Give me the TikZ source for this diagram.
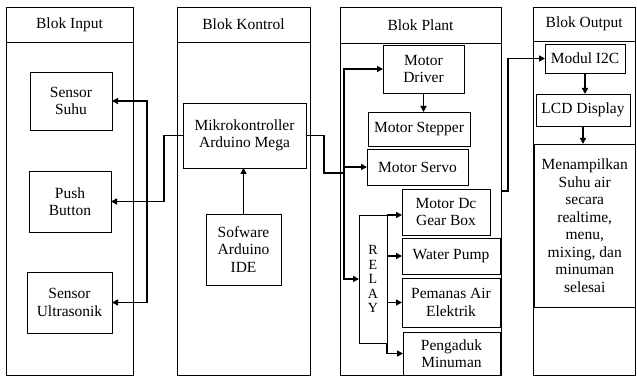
\documentclass[tikz,border=0pt]{standalone}
\usepackage{fontspec}
\setmainfont{Liberation Serif}
\usetikzlibrary{arrows.meta}

\begin{document}
\begin{tikzpicture}[
    x=1pt, y=-1pt,
    >={Triangle[length=6pt,width=6pt]},
    blok/.style={draw, line width=0.8pt, inner sep=2pt, outer sep=0pt, align=center, font=\fontsize{15.5}{17.5}\selectfont},
    colhead/.style={blok},
    colbody/.style={draw, line width=0.8pt, outer sep=0pt},
    arrowline/.style={->, line width=1.8pt},
    wire/.style={line width=1.8pt},
]
\useasboundingbox (0,0) rectangle (637,379);

% === Columns ===
\node[colhead, minimum width=127, minimum height=35] (hIn) at (69.5,24.5) {Blok Input};
\node[colbody, minimum width=127, minimum height=333] (bIn) at (69.5,208.5) {};
\node[colhead, minimum width=133, minimum height=35] (hKon) at (243.5,24.5) {Blok Kontrol};
\node[colbody, minimum width=133, minimum height=333] (bKon) at (243.5,208.5) {};
\node[colhead, minimum width=161, minimum height=36] (hPlant) at (420.5,25) {Blok Plant};
\node[colbody, minimum width=161, minimum height=332] (bPlant) at (420.5,209) {};
\node[colhead, minimum width=102.5, minimum height=34] (hOut) at (584.25,24) {Blok Output};
\node[colbody, minimum width=102.5, minimum height=334] (bOut) at (584.25,208) {};

% === Blok Input ===
\node[blok, minimum width=82, minimum height=58] (suhu) at (71,101) {Sensor\\Suhu};
\node[blok, minimum width=82, minimum height=61] (push) at (70,201.5) {Push\\Button};
\node[blok, minimum width=85, minimum height=61] (ultra) at (69.5,302.5) {Sensor\\Ultrasonik};

% === Blok Kontrol ===
\node[blok, minimum width=123, minimum height=65] (mikro) at (244.5,135.5) {Mikrokontroller\\Arduino Mega};
\node[blok, minimum width=75, minimum height=71] (soft) at (243.5,249.5) {Sofware\\Arduino\\IDE};

% === Blok Plant ===
\node[blok, minimum width=81, minimum height=48] (driver) at (423.5,69) {Motor\\Driver};
\node[blok, minimum width=102, minimum height=34] (stepper) at (419,129) {Motor Stepper};
\node[blok, minimum width=101, minimum height=36] (servo) at (417.5,167) {Motor Servo};
\node[blok, minimum width=28, minimum height=128, font=\fontsize{14}{14.5}\selectfont] (relay) at (373,279) {R\\E\\L\\A\\Y};
\node[blok, minimum width=88, minimum height=46] (gearbox) at (446,212) {Motor Dc\\Gear Box};
\node[blok, minimum width=98, minimum height=36] (pump) at (451,256) {Water Pump};
\node[blok, minimum width=98, minimum height=49] (pemanas) at (451,302.5) {Pemanas Air\\Elektrik};
\node[blok, minimum width=97, minimum height=43] (pengaduk) at (451.5,353.5) {Pengaduk\\Minuman};

% === Blok Output ===
\node[blok, minimum width=80, minimum height=29] (modul) at (585,58.5) {Modul I2C};
\node[blok, minimum width=94, minimum height=32] (lcd) at (583,110) {LCD Display};
\node[blok, minimum width=101.5, minimum height=163] (tampil) at (584.75,225.5) {Menampilkan\\Suhu air\\secara\\realtime,\\menu,\\mixing, dan\\minuman\\selesai};

% === Connections ===
\path (push.east) -- ++(36,0) coordinate (jIn);
\draw[arrowline] (mikro.west) -- ++(-19,0) |- (push.east);
\draw[arrowline] (jIn) |- (suhu.east);
\draw[arrowline] (jIn) |- (ultra.east);
\draw[arrowline] (soft.north) -- (soft.north |- mikro.south);

\coordinate (jPl) at (344,173);
\draw[wire] (mikro.east) -- ++(18,0) |- (jPl);
\draw[arrowline] (jPl) |- (driver.west);
\draw[arrowline] (jPl) |- (relay.west);
\draw[arrowline] (jPl |- servo.west) -- (servo.west);
\draw[arrowline] (driver.south) -- (driver.south |- stepper.north);

\draw[arrowline] (relay.north east) -- (relay.north east -| gearbox.west);
\foreach \n in {pump,pemanas}
    \draw[arrowline] (relay.east |- \n.west) -- (\n.west);
\draw[arrowline] (relay.south east) |- (pengaduk.west);

\draw[arrowline] ([yshift=18pt]bPlant.east) -- ++(7,0) |- (modul.west);
\draw[arrowline] (modul.south) -- (modul.south |- lcd.north);
\draw[arrowline] (lcd.south) -- (lcd.south |- tampil.north);

\end{tikzpicture}
\end{document}
